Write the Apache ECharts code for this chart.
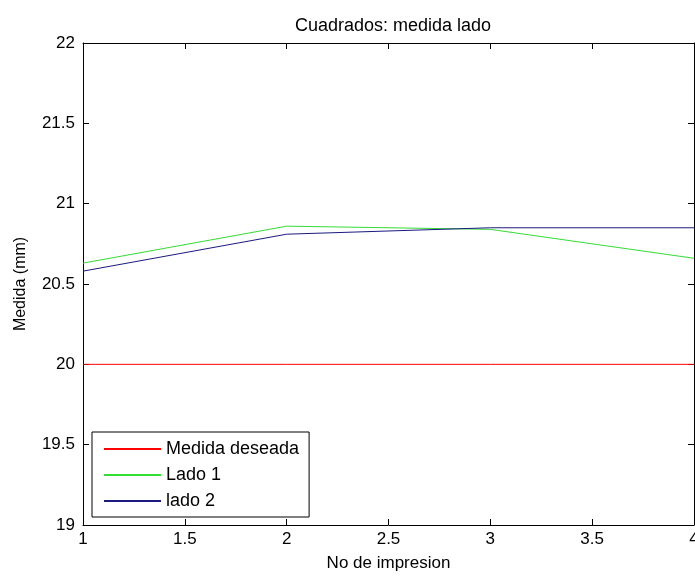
<!DOCTYPE html>
<html><head><meta charset="utf-8">
<script src="https://cdn.jsdelivr.net/npm/echarts@6/dist/echarts.min.js"></script>
<style>html,body{margin:0;padding:0;background:#fff}#c{width:695px;height:576px}</style>
</head><body><div id="c"></div>
<script>
const xValues = [1, 2, 3, 4];
const medidaDeseada = [20, 20, 20, 20];
const lado1 = [20.63, 20.86, 20.84, 20.66];
const lado2 = [20.58, 20.81, 20.85, 20.85];
const seriesNames = ['Medida deseada', 'Lado 1', 'lado 2'];

const font = 'Liberation Sans, Arial, sans-serif';
const pair = (ys) => xValues.map((x, i) => [x, ys[i]]);
const axisCommon = {
  axisLine: { show: true, onZero: false, lineStyle: { color: '#000', width: 1 } },
  axisTick: { show: true, inside: true, length: 6, lineStyle: { color: '#000' } },
  splitLine: { show: false },
  axisLabel: { color: '#000', fontFamily: font, fontSize: 17 }
};
const chart = echarts.init(document.getElementById('c'));
chart.setOption({
  backgroundColor: '#fff',
  animation: false,
  title: { text: 'Cuadrados: medida lado', left: 388, textAlign: 'center', top: 12,
    textStyle: { fontFamily: font, fontSize: 18, fontWeight: 'normal', color: '#000' } },
  grid: { left: 83, right: 1, top: 43, bottom: 51, containLabel: false, outerBoundsMode: 'none' },
  xAxis: [
    Object.assign({}, axisCommon, { type: 'value', min: 1, max: 4, interval: 0.5, position: 'bottom',
      name: 'No de impresion', nameLocation: 'middle', nameGap: 30,
      nameTextStyle: { fontFamily: font, fontSize: 17, color: '#000' },
      axisLabel: Object.assign({}, axisCommon.axisLabel, { margin: 6 }) }),
    Object.assign({}, axisCommon, { type: 'value', min: 1, max: 4, interval: 0.5, position: 'top',
      axisLabel: { show: false } })
  ],
  yAxis: [
    Object.assign({}, axisCommon, { type: 'value', min: 19, max: 22, interval: 0.5, position: 'left',
      name: 'Medida (mm)', nameLocation: 'middle', nameGap: 54, nameRotate: 90,
      nameTextStyle: { fontFamily: font, fontSize: 16, color: '#000' },
      axisLabel: Object.assign({}, axisCommon.axisLabel, { margin: 8 }) }),
    Object.assign({}, axisCommon, { type: 'value', min: 19, max: 22, interval: 0.5, position: 'right',
      axisLabel: { show: false } })
  ],
  legend: {
    orient: 'vertical', left: 92, top: 432,
    data: seriesNames,
    itemWidth: 57, itemHeight: 18, itemGap: 8,
    padding: [8, 10, 7, 11],
    borderColor: '#000', borderWidth: 1, backgroundColor: '#fff',
    itemStyle: { opacity: 0 },
    textStyle: { fontFamily: font, fontSize: 18, color: '#000' }
  },
  series: [
    { name: seriesNames[0], type: 'line', data: pair(medidaDeseada), symbol: 'none',
      lineStyle: { color: '#ff0000', width: 1 }, itemStyle: { color: '#ff0000' } },
    { name: seriesNames[1], type: 'line', data: pair(lado1), symbol: 'none',
      lineStyle: { color: '#33dd33', width: 1 }, itemStyle: { color: '#33dd33' } },
    { name: seriesNames[2], type: 'line', data: pair(lado2), symbol: 'none',
      lineStyle: { color: '#1a1a80', width: 1 }, itemStyle: { color: '#1a1a80' } }
  ]
});
</script></body></html>
